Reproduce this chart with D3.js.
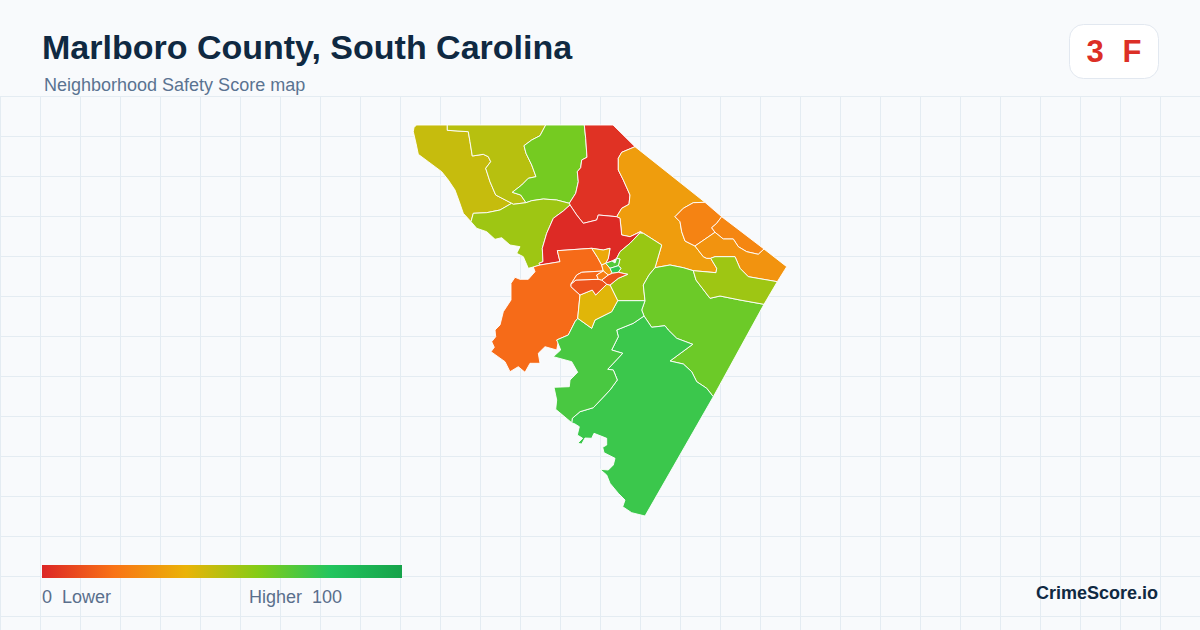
<!DOCTYPE html>
<html><head><meta charset="utf-8">
<script src="https://cdn.jsdelivr.net/npm/d3@7/dist/d3.min.js"></script>
<style>html,body{margin:0;padding:0;background:#f8fafc}svg{display:block}text{font-family:"Liberation Sans",Arial,sans-serif;white-space:pre}</style>
</head><body><svg id="c" width="1200" height="630"></svg>
<script>
const titleText = "Marlboro County, South Carolina";
const subtitleText = "Neighborhood Safety Score map";
const overallScore = "3", overallGrade = "F";
const legendStops = [0,20,40,60,80,100];
const legendColors = ["#dc2626","#f97316","#eab308","#84cc16","#22c55e","#16a34a"];
const areaScores = [47,50,63,3,33,25,26,30,55,1,18,56,65,55,75,72,42,37,31,70,77,11,12,17,23];
const areaRings = [
[[16.7,5],[47.3,5],[47.3,10.3],[68.3,11.7],[70,21.7],[72.3,36],[83.3,34.3],[88.3,36.7],[90.7,41.7],[85.7,48.3],[90,61.7],[95.7,75],[111.7,83.3],[100,90],[95,91],[86.7,92.7],[73.3,93.3],[71,101.7],[63.3,93.3],[59.3,81.7],[55,70],[48.3,60],[41.7,51.7],[28.3,41.7],[18.3,34.3],[16,23.3],[13.3,11.7],[14,7.3]],
[[47.3,5],[145.7,5],[140,15.7],[131.7,20],[124,25.7],[126,33.3],[131.7,45],[136,56.7],[128.3,58.3],[121.7,65],[112.3,72.3],[120.7,75],[126,82.7],[113.3,84.3],[111.7,83.3],[95.7,75],[90,61.7],[85.7,48.3],[90.7,41.7],[88.3,36.7],[83.3,34.3],[72.3,36],[70,21.7],[68.3,11.7],[47.3,10.3]],
[[145.7,5],[184.3,5],[185.7,18.3],[187,37.3],[181.7,40],[180.7,47.7],[177.3,51.7],[178.3,61.7],[175.7,73.3],[169.3,83.3],[156.7,80],[143.3,79],[131.7,80.7],[126,82.7],[120.7,75],[112.3,72.3],[121.7,65],[128.3,58.3],[136,56.7],[131.7,45],[126,33.3],[124,25.7],[131.7,20],[140,15.7]],
[[184.3,5],[213,5],[235,26.7],[221.7,32.3],[218.3,38.3],[218.3,50],[223.3,60],[230,75],[229,84.3],[221.7,88.3],[216.7,96.7],[198.3,95],[196.7,100],[183.3,103.3],[176.7,95],[170,85],[169.3,83.3],[175.7,73.3],[178.3,61.7],[177.3,51.7],[180.7,47.7],[181.7,40],[187,37.3],[185.7,18.3]],
[[235,26.7],[305,82.3],[293.3,82.7],[283.3,88.3],[275,96.7],[280,101.7],[281.7,111.7],[285,121],[295,126],[303.3,136.7],[306.7,138.3],[310.7,138.3],[316.7,148.3],[316,152.7],[293.3,150.7],[283.3,147.7],[270,145],[255,147.7],[261.7,125],[243.3,113.3],[240,111.7],[230,116.7],[221.7,115],[220,98.3],[216.7,96.7],[221.7,88.3],[229,84.3],[230,75],[223.3,60],[218.3,50],[218.3,38.3],[221.7,32.3]],
[[305,82.3],[321.7,96.7],[316.7,103.3],[311.7,107.7],[315,112.3],[295,126],[285,121],[281.7,111.7],[280,101.7],[275,96.7],[283.3,88.3],[293.3,82.7]],
[[321.7,96.7],[364,129],[358.3,134.3],[346.7,131.7],[338.3,126.7],[333.3,119],[323.3,119],[315,112.3],[311.7,107.7],[316.7,103.3]],
[[315,112.3],[323.3,119],[333.3,119],[338.3,126.7],[346.7,131.7],[358.3,134.3],[364,129],[386.7,146.7],[377.3,161.7],[348.3,156.7],[340,148.3],[335,136.7],[315,136.7],[310.7,138.3],[306.7,138.3],[303.3,136.7],[295,126]],
[[71,101.7],[73.3,93.3],[86.7,92.7],[95,91],[100,90],[111.7,83.3],[113.3,84.3],[126,82.7],[131.7,80.7],[143.3,79],[156.7,80],[169.3,83.3],[170,85],[163.3,91],[153.3,98.3],[146.7,113.3],[142.3,128.3],[143,141.7],[139,143.3],[140,145],[133.3,147],[128.3,148.3],[123.3,136.7],[116.7,133.3],[120,126.7],[110,125],[101.7,117.7],[95,119.3],[86.7,111.7],[76.7,108.3]],
[[170,85],[176.7,95],[183.3,103.3],[196.7,100],[198.3,95],[216.7,96.7],[220,98.3],[221.7,115],[230,116.7],[241,111.5],[230,123.3],[220,131.7],[216.7,138.3],[212,141],[205.7,143.3],[208.3,138.3],[210,128.3],[203.3,130],[191.7,128.3],[157.3,130.7],[160,141.7],[140,145],[139,143.3],[143,141.7],[142.3,128.3],[146.7,113.3],[153.3,98.3],[163.3,91]],
[[133.3,147],[140,145],[160,141.7],[157.3,130.7],[191.7,128.3],[197.7,137.7],[201.7,145],[203.3,151],[181.7,152.3],[176.7,155],[171,164],[171,166.7],[180,175],[179,185],[177.7,198.3],[175,201.7],[168.3,215],[156.7,220],[158.3,221.7],[156.7,230],[145,226.7],[138.3,233.3],[140,243.3],[130,243.3],[125,252.3],[118.3,246.7],[110,251.7],[105,241.7],[91,231.7],[94.3,227.3],[91.7,221.7],[95.7,216.7],[95,210],[100,205],[103.3,191.7],[111,180],[111,163.3],[115,157.3],[120,159.3],[128.3,159.3],[135,151.7]],
[[243.3,113.3],[261.7,125],[255,147.7],[249,155],[243.3,165],[245,180.7],[217.7,180.7],[210,165],[218.3,158.3],[227.7,154.3],[218.3,152.3],[221,148.3],[218.3,145.7],[220,139],[216.7,138.3],[220,131.7],[230,123.3],[240,113]],
[[255,147.7],[270,145],[283.3,147.7],[293.3,150.7],[296,160],[310,178.3],[320,176],[340,180],[364,184.3],[313.3,276.7],[306.7,268.3],[296.7,261.7],[291.7,251.7],[283.3,244],[270,241],[292.7,224.3],[276.7,218.3],[268.3,210],[265,205.7],[251.7,207.3],[244,196],[241.7,190],[245,180.7],[243.3,165],[249,155]],
[[293.3,150.7],[316,152.7],[316.7,148.3],[310.7,138.3],[315,136.7],[335,136.7],[340,148.3],[348.3,156.7],[377.3,161.7],[364,184.3],[340,180],[320,176],[310,178.3],[296,160]],
[[244,196],[251.7,207.3],[265,205.7],[268.3,210],[276.7,218.3],[292.7,224.3],[270,241],[283.3,244],[291.7,251.7],[296.7,261.7],[306.7,268.3],[313.3,276.7],[245,396],[231.7,392.7],[222.7,386.7],[225,380],[218.3,373.3],[210,363.3],[206.7,355],[200,349.3],[208.3,350],[213.3,345],[215,338.3],[204,332.7],[202.7,327.3],[206.7,325],[206.7,318.3],[194,313.3],[191.7,318.3],[185,318],[181.7,324],[177.7,323.3],[182.7,318.3],[177.3,315],[179.3,306.7],[175,304],[171.7,302.7],[172.3,298.3],[180,291.7],[193.3,287.7],[210,270],[217.3,260],[213.3,250],[207.7,249.3],[222.7,233.3],[211.7,230],[218.3,216.7],[216.7,210],[233.3,203.3]],
[[217.7,180.7],[245,180.7],[241.7,190],[244,196],[233.3,203.3],[216.7,210],[218.3,216.7],[211.7,230],[222.7,233.3],[207.7,249.3],[213.3,250],[217.3,260],[210,270],[193.3,287.7],[180,291.7],[172.3,298.3],[171.7,302.7],[155.7,289.3],[156.7,280],[154,267.3],[169.3,266.7],[170,260],[177.7,252.3],[171.7,241.7],[153.3,236.7],[160.7,230],[156.7,220],[168.3,215],[175,201.7],[177.7,198.3],[191.7,208.3],[195,200],[211.7,191.7]],
[[217.7,180.7],[211.7,191.7],[195,200],[191.7,208.3],[177.7,198.3],[179,185],[180,175],[192.3,170],[195.7,175],[206.7,164.3],[210,165]],
[[191.7,128.3],[203.3,130],[210,128.3],[208.3,138.3],[205.7,143.3],[201.7,145],[197.7,137.7]],
[[201.7,145],[205.7,143.3],[210,148.3],[212.3,153.3],[208.3,155],[203.3,151]],
[[205.7,143.3],[212,141],[215,143],[216.7,138.3],[220,139],[218.3,145.7],[210,148.3]],
[[210,148.3],[218.3,145.7],[221,148.3],[218.3,152.3],[212.3,153.3]],
[[227.7,154.3],[218.3,158.3],[210,165],[206.7,164.3],[201.7,160],[208.3,155],[212.3,153.3],[218.3,152.3]],
[[171,164],[176,160],[198.3,159.3],[201.7,160],[206.7,164.3],[195.7,175],[192.3,170],[180,175],[171,166.7]],
[[171,164],[176.7,155],[181.7,152.3],[203.3,151],[196.7,155],[198.3,159.3],[176,160]],
[[196.7,155],[203.3,151],[208.3,155],[201.7,160],[198.3,159.3]]
];

const W = 1200, H = 630;
const svg = d3.select("#c");
const color = d3.scaleLinear().domain(legendStops).range(legendColors).clamp(true);

svg.append("rect").attr("width",W).attr("height",H).attr("fill","#f8fafc");
const grid = svg.append("g").attr("stroke","#e4ecf2").attr("stroke-width",1);
d3.range(96,H,40).forEach(y=>grid.append("line").attr("x1",0).attr("x2",W).attr("y1",y+.5).attr("y2",y+.5));
d3.range(0,W,40).forEach(x=>grid.append("line").attr("x1",x+.5).attr("x2",x+.5).attr("y1",96).attr("y2",H));

const features = {type:"FeatureCollection",features:areaRings.map((r,i)=>({type:"Feature",properties:{score:areaScores[i]},geometry:{type:"Polygon",coordinates:[r.concat([r[0]])]}}))};
const projection = d3.geoIdentity().fitExtent([[413.3,125],[786.7,516]],features);
const path = d3.geoPath(projection);
svg.append("g").selectAll("path").data(features.features).join("path")
  .attr("d",path).attr("fill",d=>color(d.properties.score))
  .attr("stroke","#ffffff").attr("stroke-width",0.9).attr("stroke-linejoin","round");

svg.append("text").attr("x",42).attr("y",59).attr("font-size",34).attr("font-weight",700).attr("fill","#0f2942").text(titleText);
svg.append("text").attr("x",44).attr("y",91).attr("font-size",18).attr("fill","#5a7391").text(subtitleText);

svg.append("rect").attr("x",1069.5).attr("y",24.5).attr("width",89).attr("height",54).attr("rx",14).attr("fill","#ffffff").attr("stroke","#e2e8f0");
svg.append("text").attr("x",1095).attr("y",62).attr("text-anchor","middle").attr("font-size",31).attr("font-weight",700).attr("fill","#dc2f26").text(overallScore);
svg.append("text").attr("x",1132).attr("y",62).attr("text-anchor","middle").attr("font-size",31).attr("font-weight",700).attr("fill","#dc2f26").text(overallGrade);

const defs = svg.append("defs");
const legendX = d3.scaleLinear().domain([0,100]).range([42,402]);
const grad = defs.append("linearGradient").attr("id","lg");
legendStops.forEach(v=>grad.append("stop").attr("offset",v+"%").attr("stop-color",color(v)));
svg.append("rect").attr("x",legendX(0)).attr("y",565).attr("width",legendX(100)-legendX(0)).attr("height",13).attr("fill","url(#lg)");
svg.append("text").attr("x",42).attr("y",603).attr("font-size",18).attr("fill","#5a6f8c").text("0  Lower");
svg.append("text").attr("x",342).attr("y",603).attr("text-anchor","end").attr("font-size",18).attr("fill","#5a6f8c").text("Higher  100");
svg.append("text").attr("x",1158).attr("y",599).attr("text-anchor","end").attr("font-size",18).attr("font-weight",700).attr("fill","#0f2942").text("CrimeScore.io");
</script></body></html>
